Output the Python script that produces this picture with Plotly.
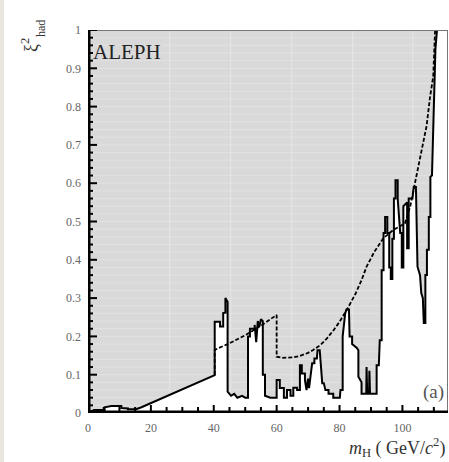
import plotly.graph_objects as go

# ---------------- data ----------------
obs_mass = [0, 0.5, 2, 5.3, 5.3, 7.4, 10.6, 10.6, 12.7, 12.7, 15.3, 17, 40.3,
            40.3, 42, 42, 43, 43, 43.7, 43.7, 44.4, 44.4, 45.5, 46.5, 47.5, 49, 50, 50.9,
            50.9, 51.5, 51.5, 53, 53, 53.5, 54, 54.5, 55, 55.6,
            55.6, 56.3, 56.3, 58, 60, 60, 61, 61, 62.3, 62.3, 63.3, 63.3, 64.4, 64.4,
            65.3, 65.3, 66.5, 66.5, 67.4, 67.4, 68, 68, 69, 69, 69.5, 70, 70.3, 70.8,
            71.3, 72, 72, 72.8, 73, 73.7, 74, 74.5, 75, 75.5, 76.5, 76.5, 78, 78, 80.1,
            80.3, 81, 81, 81.8, 82.2, 83, 83.2, 84, 84, 85.5, 86, 86, 87, 87, 88.5, 88.6,
            88.8, 89.4, 89.5, 89.7, 91.8, 91.8, 92.5, 92.8, 93.4, 93.4, 94, 94,
            94.5, 94.5, 95.2, 95.2, 95.8, 95.8, 96.3, 96.3, 96.8, 96.8, 97.3, 97.3, 97.8,
            97.8, 98.5, 98.5, 99, 99.3, 99.8, 99.8, 100.3, 100.3, 101.5, 101.5, 102, 102,
            103.2, 103.6, 104.3, 104.5, 104.8, 105.6, 106, 106.5, 106.8, 107.3, 107.3,
            107.8, 107.8, 108.4, 108.4, 108.9, 108.9, 109.4, 109.6, 109.9, 110.2, 110.5, 111]
obs_xi2 = [0, 0.003, 0.008, 0.008, 0.015, 0.018, 0.018, 0.013, 0.012, 0.010, 0.010, 0.015, 0.099,
           0.238, 0.238, 0.226, 0.226, 0.261, 0.262, 0.300, 0.290, 0.056, 0.045, 0.050, 0.040, 0.045, 0.040, 0.040,
           0.200, 0.200, 0.220, 0.220, 0.230, 0.185, 0.240, 0.225, 0.245, 0.240,
           0.100, 0.100, 0.045, 0.040, 0.040, 0.086, 0.086, 0.065, 0.065, 0.040, 0.040, 0.060, 0.060, 0.045,
           0.045, 0.066, 0.066, 0.060, 0.060, 0.125, 0.125, 0.103, 0.103, 0.086, 0.060, 0.090, 0.065, 0.100,
           0.130, 0.130, 0.142, 0.142, 0.164, 0.164, 0.130, 0.078, 0.078, 0.060, 0.060, 0.050, 0.050, 0.040, 0.040,
           0.060, 0.060, 0.200, 0.260, 0.270, 0.270, 0.200, 0.200, 0.180, 0.170, 0.164, 0.095, 0.080, 0.050, 0.050, 0.120,
           0.050, 0.050, 0.110, 0.050, 0.050, 0.125, 0.125, 0.190, 0.190, 0.373, 0.373, 0.470,
           0.470, 0.512, 0.512, 0.470, 0.470, 0.380, 0.380, 0.350, 0.350, 0.455, 0.455, 0.560, 0.560,
           0.608, 0.608, 0.560, 0.512, 0.470, 0.470, 0.380, 0.380, 0.540, 0.550, 0.430, 0.430, 0.560,
           0.560, 0.590, 0.590, 0.530, 0.382, 0.360, 0.313, 0.300, 0.235, 0.235, 0.360,
           0.360, 0.426, 0.426, 0.512, 0.512, 0.617, 0.620, 0.690, 0.820, 0.870, 0.950, 1.000]

exp_mass = [40.3, 40.3, 45, 50, 55, 60, 60, 62, 65, 67.4, 70, 71.5, 74, 76, 78, 80, 82.7,
            85, 87, 88.6, 91, 93.9, 97.1, 100.8, 102.5, 104, 106.1, 107.7, 108.8, 109.8, 110.4]
exp_xi2 = [0.099, 0.165, 0.182, 0.203, 0.228, 0.256, 0.147, 0.144, 0.145, 0.149, 0.157, 0.164, 0.178,
           0.195, 0.215, 0.238, 0.275, 0.310, 0.347, 0.382, 0.420, 0.456, 0.478, 0.495, 0.540,
           0.600, 0.680, 0.750, 0.826, 0.878, 1.000]

# axis ticks
x_tick_step, x_minor_step = 20, 5
y_tick_step, y_minor_step = 0.1, 0.02
X_MAX = 114.5

# ---------------- layout helpers ----------------
W, H = 449, 462
L, R, T, B = 88, 1, 30, 49
pw, ph = W - L - R, H - T - B
x_per_px = X_MAX / pw
y_per_px = 1.0 / ph


def px2paper(px):
    return (px - L) / pw


def py2paper(py):
    return (H - B - py) / ph


SERIF = "Liberation Serif, Times New Roman, serif"

fig = go.Figure()

# white region under the observed curve
fig.add_trace(go.Scatter(x=obs_mass + [obs_mass[-1], X_MAX, X_MAX], y=obs_xi2 + [1, 1, 0],
                         mode="lines", line=dict(width=0), fill="tozeroy",
                         fillcolor="white", hoverinfo="skip", showlegend=False))
# expected (dashed)
fig.add_trace(go.Scatter(x=exp_mass, y=exp_xi2, mode="lines",
                         line=dict(color="black", width=1.8, dash="4px,2px"),
                         showlegend=False))
# observed (solid)
fig.add_trace(go.Scatter(x=obs_mass, y=obs_xi2, mode="lines",
                         line=dict(color="black", width=2),
                         showlegend=False))

# ---- frame (thin top/right) ----
fig.add_trace(go.Scatter(x=[0, X_MAX, X_MAX], y=[1, 1, 0], mode="lines",
                         line=dict(color="#777777", width=2), hoverinfo="skip",
                         showlegend=False))
# ---- inside tick marks derived from the tick steps ----
tx, ty = [], []
for k in range(0, int(X_MAX // x_minor_step) + 1):
    xv = k * x_minor_step
    major = (xv % x_tick_step) == 0
    tx += [xv, xv, None]
    ty += [0, (8 if major else 6) * y_per_px, None]
n_sub = int(round(y_tick_step / y_minor_step))
for k in range(0, int(round(1 / y_minor_step)) + 1):
    yv = k * y_minor_step
    major = (k % n_sub) == 0
    tx += [0, (9 if major else 5) * x_per_px, None]
    ty += [yv, yv, None]
fig.add_trace(go.Scatter(x=tx, y=ty, mode="lines", line=dict(color="black", width=2),
                         hoverinfo="skip", showlegend=False))
# ---- thick left / bottom axis lines ----
fig.add_trace(go.Scatter(x=[0, 0, X_MAX], y=[1, 0, 0], mode="lines",
                         line=dict(color="black", width=5), hoverinfo="skip",
                         showlegend=False))

shapes = []
# lighter streaks in the shaded area (under the traces)
for gx in [26.0, 45.4, 64.8, 84.2, 103.3]:
    shapes.append(dict(type="line", xref="x", yref="y", x0=gx, x1=gx, y0=0, y1=1,
                       line=dict(color="#e6e6e6", width=1), layer="below"))
for k in range(1, 50):
    gy = k * y_minor_step
    shapes.append(dict(type="line", xref="paper", yref="y", x0=0, x1=1, y0=gy, y1=gy,
                       line=dict(color="#e2e2e2", width=1), layer="below"))
# beige strip at the far left of the picture
shapes.append(dict(type="rect", xref="paper", yref="paper",
                   x0=px2paper(-5), x1=px2paper(4), y0=py2paper(470), y1=py2paper(-10),
                   line=dict(width=0), fillcolor="#ebe6e0", layer="below"))

annotations = [
    dict(text="ALEPH", xref="paper", yref="paper", x=px2paper(91), y=py2paper(52),
         xanchor="left", yanchor="middle", showarrow=False,
         font=dict(family=SERIF, size=21, color="#222222")),
    dict(text="(a)", xref="paper", yref="paper", x=px2paper(446), y=py2paper(392),
         xanchor="right", yanchor="middle", showarrow=False,
         font=dict(family=SERIF, size=19, color="#555555")),
    dict(text="<i>m</i><sub>H</sub> ( GeV/<i>c</i><sup>2</sup>)", xref="paper", yref="paper",
         x=px2paper(447), y=py2paper(447), xanchor="right", yanchor="middle", showarrow=False,
         font=dict(family=SERIF, size=18, color="#333333")),
    dict(text="ξ<sup>2</sup>", xref="paper", yref="paper", x=px2paper(30), y=py2paper(45),
         xanchor="center", yanchor="middle", showarrow=False, textangle=-90,
         font=dict(family=SERIF, size=18, color="#333333")),
    dict(text="had", xref="paper", yref="paper", x=px2paper(41), y=py2paper(29),
         xanchor="center", yanchor="middle", showarrow=False, textangle=-90,
         font=dict(family=SERIF, size=12, color="#333333")),
]

fig.update_layout(
    width=W, height=H,
    margin=dict(l=L, r=R, t=T, b=B, pad=0),
    paper_bgcolor="white",
    plot_bgcolor="#d9d9d9",
    shapes=shapes,
    annotations=annotations,
    showlegend=False,
)
fig.update_xaxes(range=[0, X_MAX], tickmode="linear", tick0=0, dtick=x_tick_step,
                 ticks="", showline=False, showgrid=False, zeroline=False,
                 ticklabelstandoff=6,
                 tickfont=dict(family=SERIF, size=12, color="#666666"))
fig.update_yaxes(range=[0, 1], tickmode="linear", tick0=0, dtick=y_tick_step,
                 ticks="", showline=False, showgrid=False, zeroline=False,
                 ticklabelstandoff=6,
                 tickfont=dict(family=SERIF, size=12, color="#666666"))

fig.write_html("out.html")
